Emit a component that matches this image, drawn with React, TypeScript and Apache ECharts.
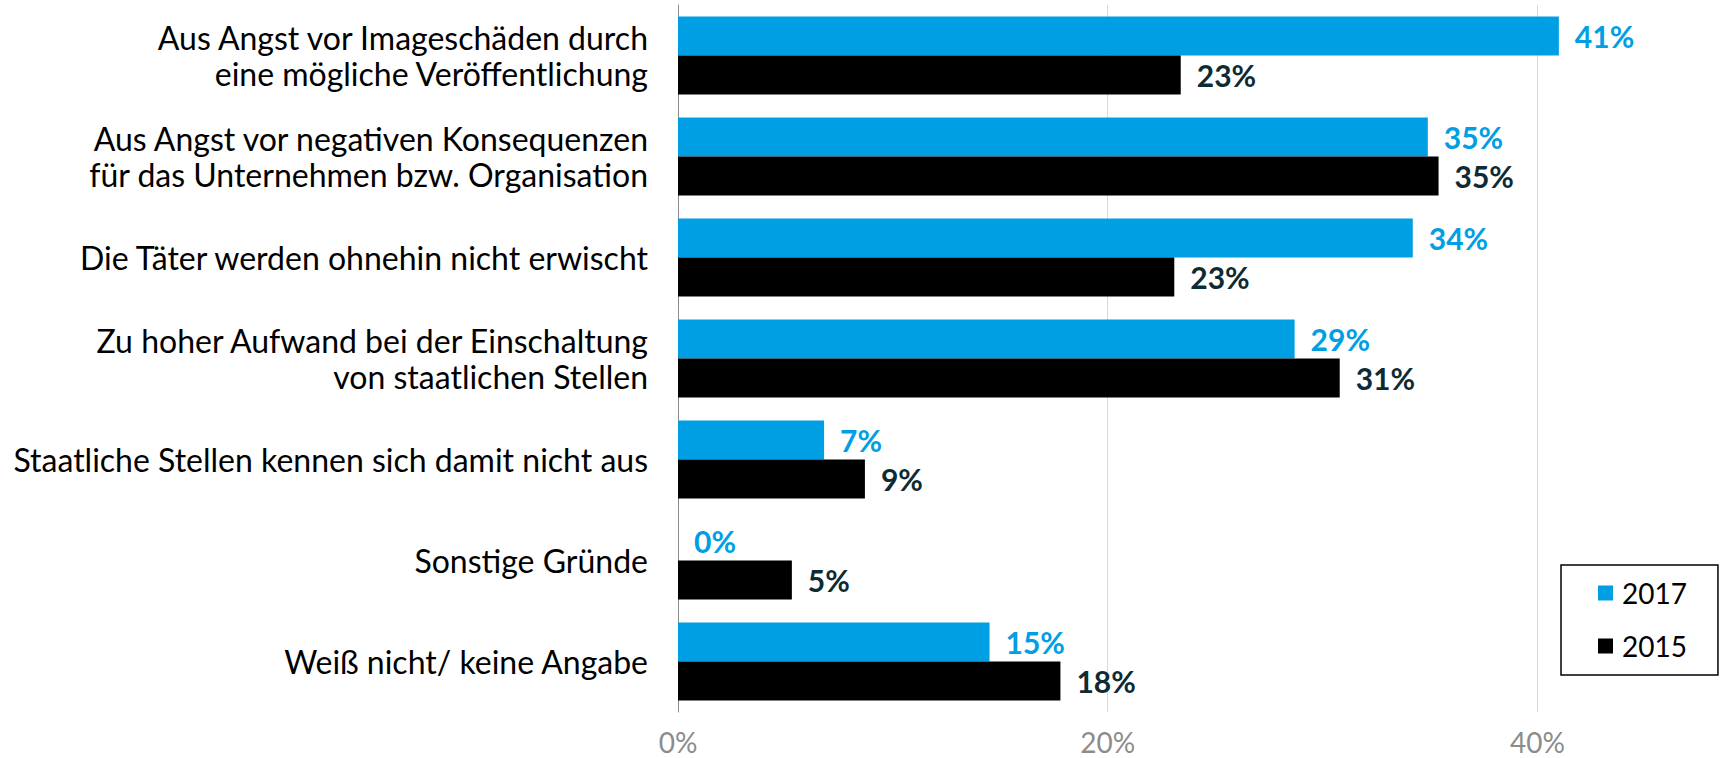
import React, { useEffect, useRef } from "react";
import * as echarts from "echarts";

const categories = [
  "Aus Angst vor Imageschäden durch\neine mögliche Veröffentlichung",
  "Aus Angst vor negativen Konsequenzen\nfür das Unternehmen bzw. Organisation",
  "Die Täter werden ohnehin nicht erwischt",
  "Zu hoher Aufwand bei der Einschaltung\nvon staatlichen Stellen",
  "Staatliche Stellen kennen sich damit nicht aus",
  "Sonstige Gründe",
  "Weiß nicht/ keine Angabe",
];
const values2017 = [41.0, 34.9, 34.2, 28.7, 6.8, 0, 14.5];
const values2015 = [23.4, 35.4, 23.1, 30.8, 8.7, 5.3, 17.8];
const seriesNames = ["2017", "2015"];
const xTicks = [0, 20, 40];

const FONT = "Lato, 'Open Sans', sans-serif";

const pct = (p: any) => Math.round(p.value) + "%";

export default function App() {
  const ref = useRef<HTMLDivElement>(null);
  useEffect(() => {
    if (!ref.current) return;
    const chart = echarts.init(ref.current, null, { renderer: "svg" });
    chart.setOption({
      animation: false,
      grid: { left: 678, right: 0, top: 5, bottom: 46, containLabel: false },
      legend: {
        data: seriesNames,
        orient: "vertical",
        left: 1561,
        top: 565,
        icon: "rect",
        itemWidth: 15,
        itemHeight: 15,
        itemGap: 23,
        padding: [13, 31, 14, 37],
        borderColor: "#000",
        borderWidth: 1.5,
        backgroundColor: "#fff",
        textStyle: {
          fontFamily: FONT,
          fontSize: 28,
          color: "#000",
          lineHeight: 30,
          padding: [0, 0, 0, 4],
        },
      },
      xAxis: {
        type: "value",
        min: 0,
        max: 48.5,
        interval: 20,
        axisLine: { show: false },
        axisTick: { show: false },
        splitLine: {
          show: true,
          lineStyle: { color: ["#d9d9d9", "#d9d9d9", "#d9d9d9", "transparent"], width: 1 },
        },
        axisLabel: {
          fontFamily: FONT,
          fontSize: 28,
          lineHeight: 26,
          color: "#8c8c8c",
          margin: 17,
          formatter: (v: number) => (xTicks.includes(v) ? v + "%" : ""),
        },
      },
      yAxis: {
        type: "category",
        data: categories,
        inverse: true,
        axisLine: { show: true, lineStyle: { color: "#8c8c8c", width: 1 } },
        axisTick: { show: false },
        axisLabel: {
          fontFamily: FONT,
          fontSize: 32,
          color: "#000",
          align: "right",
          margin: 30,
          lineHeight: 36,
        },
      },
      series: [
        {
          name: seriesNames[0],
          type: "bar",
          data: values2017,
          barWidth: 39,
          barGap: "0%",
          itemStyle: { color: "#009fe3" },
          label: {
            show: true,
            position: "right",
            distance: 16,
            formatter: pct,
            fontFamily: FONT,
            fontWeight: "bold",
            fontSize: 30,
            color: "#009fe3",
          },
        },
        {
          name: seriesNames[1],
          type: "bar",
          data: values2015,
          barWidth: 39,
          barGap: "0%",
          itemStyle: { color: "#000000" },
          label: {
            show: true,
            position: "right",
            distance: 16,
            formatter: pct,
            fontFamily: FONT,
            fontWeight: "bold",
            fontSize: 30,
            color: "#0e2a33",
          },
        },
      ],
    });
    return () => chart.dispose();
  }, []);
  return (
    <div
      ref={ref}
      style={{ position: "absolute", left: 0, top: 0, width: 1723, height: 758 }}
    />
  );
}
